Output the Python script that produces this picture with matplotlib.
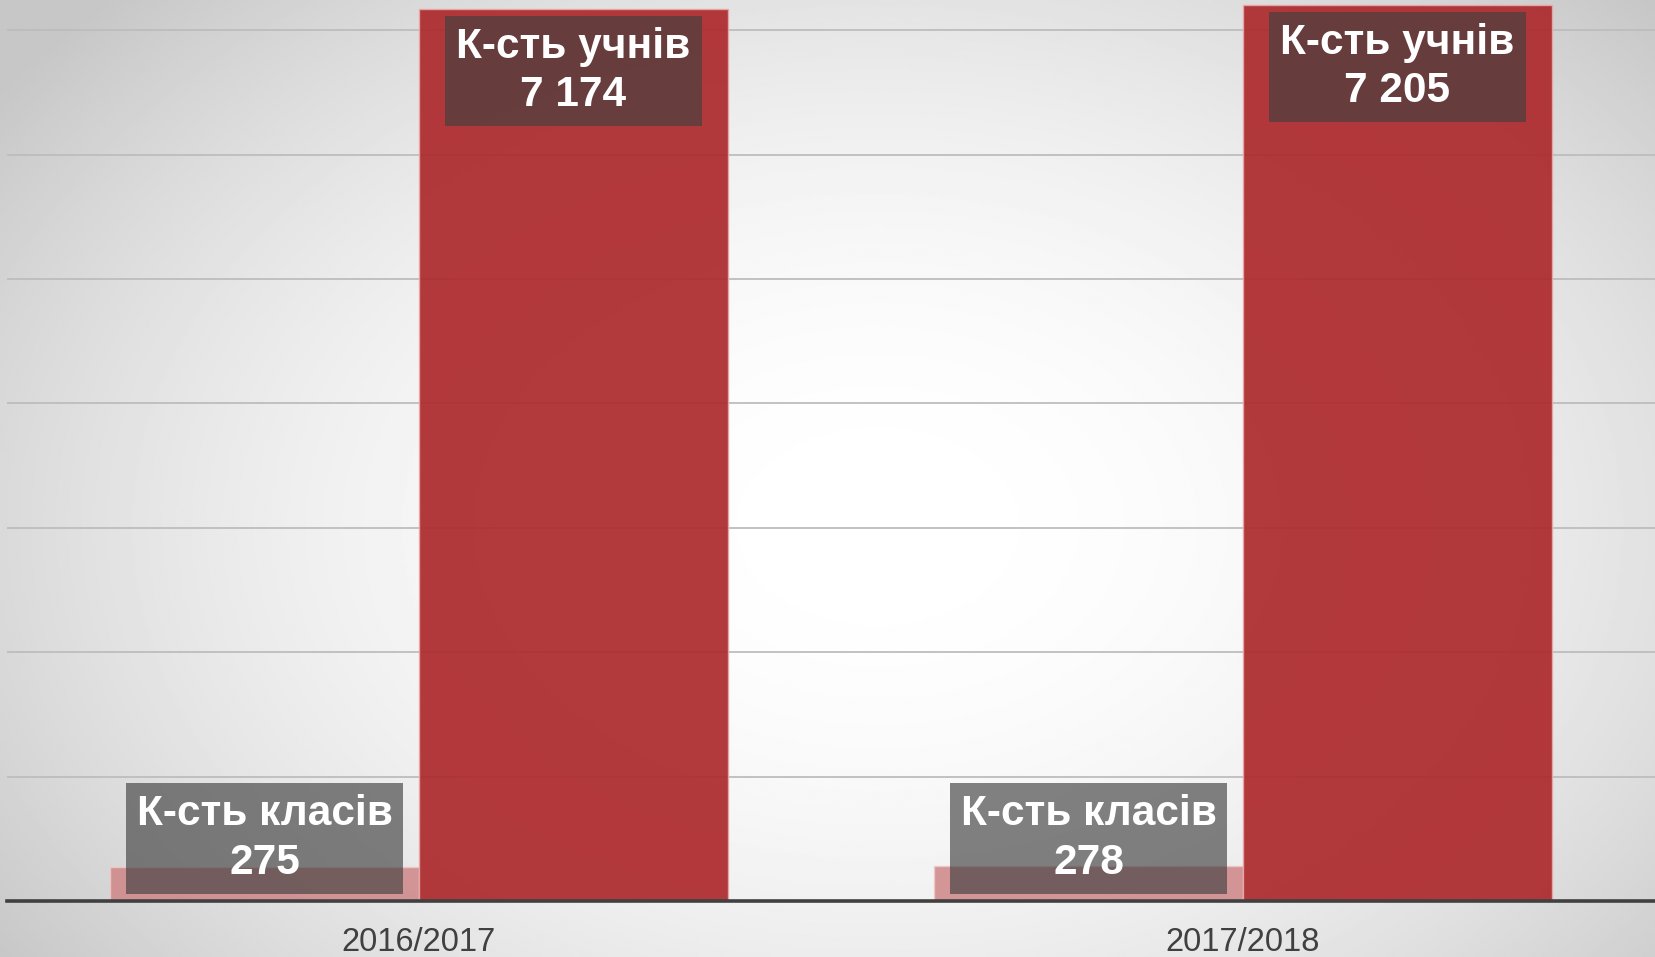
import numpy as np
import matplotlib
matplotlib.use("Agg")
import matplotlib.pyplot as plt

# Data
categories = ["2016/2017", "2017/2018"]
classes = [275, 278]
pupils = [7174, 7205]
class_label = "К-сть класів"
pupil_label = "К-сть учнів"


def fmt(v):
    return f"{v:,}".replace(",", " ")


plt.rcParams["font.family"] = ["Liberation Sans", "DejaVu Sans"]

fig = plt.figure(figsize=(16.56, 9.57), dpi=100)

# radial grey-to-white background
bg = fig.add_axes([0, 0, 1, 1], zorder=0)
yy, xx = np.mgrid[0:1:400j, 0:1:700j]
r = np.sqrt(((xx - 0.53) / 0.62) ** 2 + ((yy - 0.55) / 0.75) ** 2)
shade = np.clip(1 - 0.2 * r ** 2, 0.78, 1.0)
bg.imshow(shade, cmap="gray", vmin=0, vmax=1, aspect="auto", extent=[0, 1, 0, 1])
bg.axis("off")

ax = fig.add_axes([7 / 1656, 56 / 957, 1648 / 1656, 901 / 957], zorder=1)
ax.patch.set_alpha(0)

x = np.arange(len(categories))
w = 0.375
ax.bar(x - w / 2, classes, w, color="#cf8587", alpha=0.85, edgecolor="#f0c8c8", linewidth=1, zorder=2)
ax.bar(x + w / 2, pupils, w, color="#ad2a2d", alpha=0.93, edgecolor="#e8a8a8", linewidth=1, zorder=2)

ax.set_xlim(-0.5, 1.5)
ax.set_ylim(0, 7243)
ax.set_yticks(np.arange(1000, 8000, 1000))
ax.yaxis.grid(True, color="#bdbdbd", linewidth=1.3)
ax.set_axisbelow(True)
ax.tick_params(axis="y", length=0, labelleft=False)
ax.tick_params(axis="x", length=0, labelsize=23.5, labelcolor="#404040", pad=19)
ax.set_xticks(x)
ax.set_xticklabels(categories)
for s in ["top", "right", "left"]:
    ax.spines[s].set_visible(False)
ax.spines["bottom"].set_color("#404040")
ax.spines["bottom"].set_linewidth(2.6)
ax.spines["bottom"].set_zorder(5)

box = dict(boxstyle="square,pad=0.26", facecolor="#404040", alpha=0.65, edgecolor="none")
for i in range(len(categories)):
    ax.annotate(f"{class_label}\n{fmt(classes[i])}", xy=(x[i] - w / 2, 0), xytext=(0, 18),
                textcoords="offset pixels", ha="center", va="bottom", fontsize=30.5,
                fontweight="bold", color="white", linespacing=1.28, bbox=box, zorder=4)
    ax.annotate(f"{pupil_label}\n{fmt(pupils[i])}", xy=(x[i] + w / 2, pupils[i]), xytext=(0, -18),
                textcoords="offset pixels", ha="center", va="top", fontsize=30.5,
                fontweight="bold", color="white", linespacing=1.28, bbox=box, zorder=4)

fig.savefig("out.png", dpi=100)
